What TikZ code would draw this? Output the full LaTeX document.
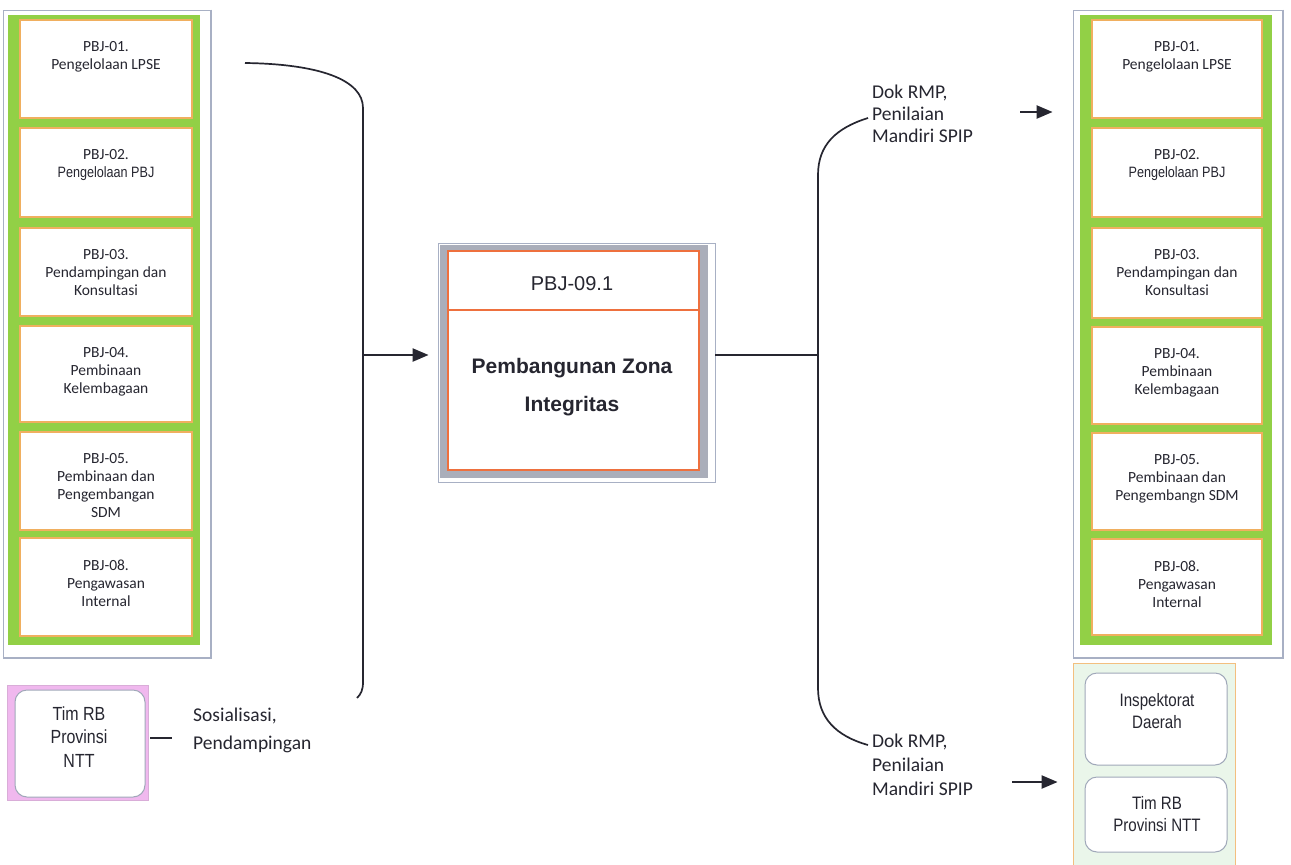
\documentclass[tikz,border=0pt]{standalone}
\usepackage{fontspec}
\setmainfont{Carlito}
\newfontfamily\arial{Liberation Sans}
\newfontfamily\arialn[FakeStretch=0.84]{Liberation Sans}
\usetikzlibrary{arrows.meta}

\definecolor{grn}{RGB}{146,208,70}
\definecolor{boxor}{RGB}{240,175,95}
\definecolor{cor}{RGB}{238,112,62}
\definecolor{framegray}{RGB}{168,176,196}
\definecolor{shadegray}{RGB}{170,174,186}
\definecolor{pinkfill}{RGB}{240,184,238}
\definecolor{lightgrn}{RGB}{234,246,234}
\definecolor{roundgray}{RGB}{160,168,185}
\definecolor{ink}{RGB}{38,38,48}

\tikzset{
  itembox/.style={draw=boxor, line width=1.2pt, fill=white, inner sep=0pt,
    minimum width=172pt},
  itemtext/.style={font=\fontsize{15.5}{18}\selectfont, text=ink, align=center,
    anchor=north, inner sep=0pt},
  paneltext/.style={font=\arialn\fontsize{19}{23.5}\selectfont, text=ink,
    align=center, inner sep=0pt},
  roundbox/.style={draw=roundgray, line width=1pt, fill=white,
    rounded corners=12pt, inner sep=0pt},
  note/.style={font=\fontsize{19.5}{22}\selectfont, text=ink, align=left,
    anchor=north west, inner sep=0pt},
  conn/.style={draw=ink, line width=1.7pt},
  arr/.style={draw=ink, line width=2.2pt, -{Triangle[length=16pt,width=13pt]}},
  sideframe/.style={draw=framegray, line width=0.8pt, inner sep=0pt},
}

\begin{document}
\begin{tikzpicture}[x=1pt,y=-1pt]
\useasboundingbox (0,0) rectangle (1291,865);
\fill[white] (0,0) rectangle (1291,865);

% ---------- left column of units ----------
\node[sideframe, minimum width=208pt, minimum height=648pt] (lframe) at (107,334) {};
\draw[framegray, line width=2pt] (lframe.north east) -- (lframe.south east) -- (lframe.south west);
\node[fill=grn, inner sep=0pt, minimum width=192pt, minimum height=630pt] (lpanel) at (104,330) {};

\node[itembox, minimum height=98pt] (l1) at (106,69) {};
\node[itembox, minimum height=89pt] (l2) at (106,172.5) {};
\node[itembox, minimum height=88pt] (l3) at (106,272) {};
\node[itembox, minimum height=96pt] (l4) at (106,374) {};
\node[itembox, minimum height=98pt] (l5) at (106,481) {};
\node[itembox, minimum height=98pt] (l6) at (106,587) {};

\node[itemtext] at ([yshift=-22pt]l1.north) {PBJ-01.\\Pengelolaan LPSE};
\node[itemtext] at ([yshift=-22pt]l2.north) {PBJ-02.\\{\arialn\fontsize{15}{18}\selectfont Pengelolaan PBJ}};
\node[itemtext] at ([yshift=-22pt]l3.north) {PBJ-03.\\Pendampingan dan\\Konsultasi};
\node[itemtext] at ([yshift=-22pt]l4.north) {PBJ-04.\\Pembinaan\\Kelembagaan};
\node[itemtext] at ([yshift=-22pt]l5.north) {PBJ-05.\\Pembinaan dan\\Pengembangan\\SDM};
\node[itemtext] at ([yshift=-22pt]l6.north) {PBJ-08.\\Pengawasan\\Internal};

% ---------- right column of units ----------
\node[sideframe, minimum width=210pt, minimum height=648pt] (rframe) at (1178,334) {};
\draw[framegray, line width=2pt] (rframe.north east) -- (rframe.south east) -- (rframe.south west);
\node[fill=grn, inner sep=0pt, minimum width=192pt, minimum height=630pt] (rpanel) at (1176,330) {};

\node[itembox, minimum width=170pt, minimum height=98pt] (r1) at (1177,69) {};
\node[itembox, minimum width=170pt, minimum height=89pt] (r2) at (1177,172.5) {};
\node[itembox, minimum width=170pt, minimum height=90pt] (r3) at (1177,273) {};
\node[itembox, minimum width=170pt, minimum height=97pt] (r4) at (1177,375.5) {};
\node[itembox, minimum width=170pt, minimum height=97pt] (r5) at (1177,481.5) {};
\node[itembox, minimum width=170pt, minimum height=96pt] (r6) at (1177,587) {};

\node[itemtext] at ([yshift=-22pt]r1.north) {PBJ-01.\\Pengelolaan LPSE};
\node[itemtext] at ([yshift=-22pt]r2.north) {PBJ-02.\\{\arialn\fontsize{15}{18}\selectfont Pengelolaan PBJ}};
\node[itemtext] at ([yshift=-22pt]r3.north) {PBJ-03.\\Pendampingan dan\\Konsultasi};
\node[itemtext] at ([yshift=-22pt]r4.north) {PBJ-04.\\Pembinaan\\Kelembagaan};
\node[itemtext] at ([yshift=-22pt]r5.north) {PBJ-05.\\Pembinaan dan\\Pengembangn SDM};
\node[itemtext] at ([yshift=-22pt]r6.north) {PBJ-08.\\Pengawasan\\Internal};

% ---------- central activity ----------
\node[sideframe, minimum width=277pt, minimum height=239pt] (cframe) at (576.5,362.5) {};
\node[fill=shadegray, inner sep=0pt, minimum width=268pt, minimum height=233pt] (cshade) at (574,361.5) {};
\node[draw=cor, line width=2pt, fill=white, inner sep=0pt,
      minimum width=251pt, minimum height=219pt] (cbox) at (573,360.5) {};
\draw[cor, line width=1.6pt] (cbox.west |- 0,310) -- (cbox.east |- 0,310);
\node[font=\arial\fontsize{20}{24}\selectfont, text=ink, inner sep=0pt] (ccode) at (572,284) {PBJ-09.1};
\node[font=\arial\bfseries\fontsize{21}{38}\selectfont, text=ink, align=center, inner sep=0pt]
  (ctitle) at (572,387) {Pembangunan Zona\\Integritas};

% ---------- provincial team (left) ----------
\node[fill=pinkfill, draw=pinkfill!80!gray, line width=0.6pt, inner sep=0pt,
      minimum width=141pt, minimum height=115pt] (tpink) at (77.5,742.5) {};
\node[roundbox, minimum width=130pt, minimum height=107pt] (tim) at (80,743.5) {};
\node[paneltext] at (79,737) {Tim RB\\Provinsi\\NTT};
\coordinate (dashend) at (172,738);
\draw[conn] ([xshift=2pt]tpink.east |- dashend) -- (dashend);
\node[note, font=\fontsize{19.5}{28}\selectfont] (sos) at (193,708) {Sosialisasi,\\Pendampingan};

% ---------- inspectorate group (bottom right) ----------
\fill[lightgrn] (1073,663) rectangle (1235,865);
\draw[boxor!80!white, line width=1pt] (1073,865) -- (1073,663) -- (1235,663) -- (1235,865);
\node[roundbox, minimum width=142pt, minimum height=92pt] (insp) at (1156,719) {};
\node[roundbox, minimum width=142pt, minimum height=75pt] (timr) at (1156,814.5) {};
\node[paneltext, font=\arialn\fontsize{18}{22.5}\selectfont] at (1157,711) {Inspektorat\\Daerah};
\node[paneltext, font=\arialn\fontsize{18}{22.5}\selectfont] at (1157,814) {Tim RB\\Provinsi NTT};

% ---------- input brace ----------
\coordinate (lin) at (245,63);
\coordinate (lout) at (357,698);
\coordinate (lmid) at (363,355);
\draw[conn] (lin) .. controls (320,64) and (363,80) .. (363,108)
  -- (363,682) .. controls (363,690) and (361,694) .. (lout);
\draw[arr] (lmid) -- ([xshift=-9pt]cframe.west |- lmid);

% ---------- output brace ----------
\coordinate (rmid) at (818,355);
\coordinate (rtop) at (868,118);
\coordinate (rbot) at (868,745);
\draw[conn] (cframe.east |- rmid) -- (rmid);
\draw[conn] (rtop) .. controls (836,128) and (818,145) .. (818,175)
  -- (818,688) .. controls (818,718) and (836,736) .. (rbot);

\node[note] (dtop) at (872,85) {Dok RMP,\\Penilaian\\Mandiri SPIP};
\node[note, font=\fontsize{19.5}{24}\selectfont] (dbot) at (872,734) {Dok RMP,\\Penilaian\\Mandiri SPIP};

\coordinate (atop) at (1020,112);
\coordinate (abot) at (1012,782);
\draw[arr] (atop) -- ([xshift=-20pt]rframe.west |- atop);
\draw[arr] (abot) -- ([xshift=-15pt]rframe.west |- abot);
\end{tikzpicture}
\end{document}
